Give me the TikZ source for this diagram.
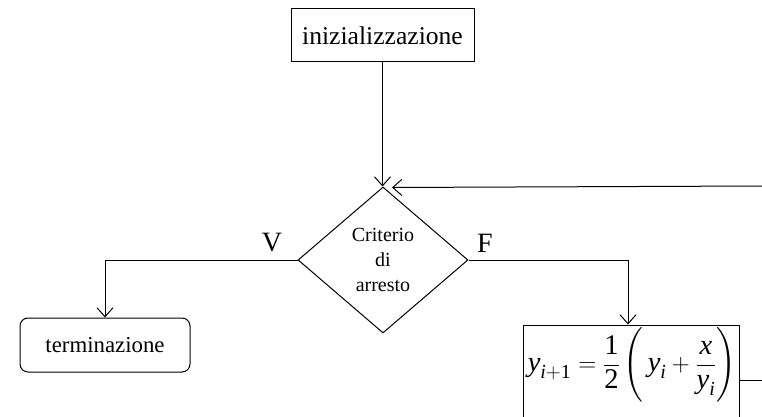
\documentclass[tikz,border=0pt]{standalone}
\usepackage{amsmath}
\usepackage{fontspec}
\setmainfont{Liberation Serif}
\usetikzlibrary{shapes.geometric,arrows.meta}

\tikzset{
  flow/.style={line width=1pt},
  arr/.style={flow,-{Straight Barb[length=9pt,width=16pt,line width=1pt]}},
  procbox/.style={draw,line width=1pt,rectangle,inner sep=0pt},
  endbox/.style={draw,line width=1pt,rectangle,rounded corners=8pt,inner sep=0pt},
  decision/.style={draw,line width=1pt,diamond,inner sep=0pt,align=center},
  branch/.style={inner sep=0pt,font=\fontsize{28}{30}\selectfont}
}

\begin{document}
\begin{tikzpicture}[x=1pt,y=-1pt]
  \useasboundingbox (0,0) rectangle (762,417);
  \clip (0,0) rectangle (762,417);

  % start block
  \node[procbox,minimum width=183pt,minimum height=53pt,
        font=\fontsize{25.6}{30}\selectfont] (init) at (382.5,35.5) {inizializzazione};

  % stopping test
  \node[decision,minimum width=170pt,minimum height=146pt,
        font=\fontsize{20}{25}\selectfont] (test) at (383,260) {Criterio\\di\\arresto};
  \node[branch] (vlab) at (272,243) {V};
  \node[branch] (flab) at (485,243) {F};

  % end block
  \node[endbox,minimum width=170pt,minimum height=54pt,
        font=\fontsize{22.8}{27}\selectfont] (term) at (105,345) {terminazione};

  % update step
  \node[procbox,minimum width=216pt,minimum height=110pt] (upd) at (631,380) {};
  \node[inner sep=0pt,font=\fontsize{28.5}{34}\selectfont] (formula) at (632,366)
    {$\displaystyle \textit{y}_{\textit{i}+\text{1}} = \frac{\text{1}}{\text{2}}\left(\vrule height 1.45em depth 1.15em width 0pt\,\textit{y}_{\textit{i}} + \frac{\textit{x}}{\textit{y}_{\textit{i}}}\right)$};

  % loop-back ends at the right border
  \coordinate (loopout) at (762,380);
  \coordinate (loopin) at (762,186);

  % connectors
  \draw[arr] (init.south) -- (init.south |- test.north);
  \draw[arr] (test.west) -| (term.north);
  \draw[arr] (test.east) -| ([xshift=-3pt]upd.north);
  \draw[flow] (upd.east |- loopout) -- (loopout);
  \draw[arr] (loopin) -- ([xshift=9pt,yshift=-1pt]test.north);
\end{tikzpicture}
\end{document}
